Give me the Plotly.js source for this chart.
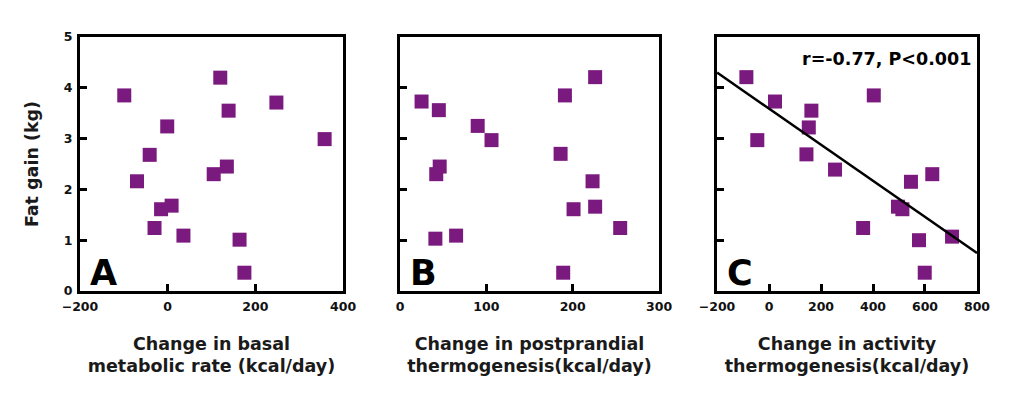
<!DOCTYPE html>
<html>
<head>
<meta charset="utf-8">
<script src="https://cdn.plot.ly/plotly-3.0.1.min.js"></script>
<style>html,body{margin:0;padding:0;background:#fff;}#chart{width:1024px;height:405px;}</style>
</head>
<body>
<div id="chart"></div>
<script>
// Fat gain (kg) for the 16 subjects (shared y values)
const fatGainA = [3.85, 4.20, 3.71, 3.55, 3.24, 2.99, 2.68, 2.45, 2.30, 2.16, 1.68, 1.61, 1.24, 1.09, 1.01, 0.36];
const basalChange = [-99, 120, 248, 139, -1, 358, -41, 135, 105, -70, 9, -15, -30, 36, 164, 175];

const fatGainB = [4.21, 3.85, 3.73, 3.56, 3.25, 2.97, 2.70, 2.45, 2.30, 2.16, 1.66, 1.61, 1.24, 1.09, 1.03, 0.36];
const postprandialChange = [226, 191, 25, 45, 90, 106, 186, 46, 42, 223, 226, 201, 255, 65, 41, 189];

const fatGainC = [4.21, 3.85, 3.73, 3.55, 3.22, 2.97, 2.69, 2.39, 2.30, 2.15, 1.66, 1.61, 1.24, 1.07, 1.00, 0.36];
const activityChange = [-87, 403, 23, 163, 153, -45, 144, 254, 628, 546, 496, 513, 362, 704, 577, 599];

const fitLineX = [-200, 800];
const fitLineY = [4.30, 0.75];

const xTicksA = [-200, 0, 200, 400];
const xTicksB = [0, 100, 200, 300];
const xTicksC = [-200, 0, 200, 400, 600, 800];
const yTicks = [0, 1, 2, 3, 4, 5];

const panelLetters = ['A', 'B', 'C'];
const xTitles = ['Change in basal<br>metabolic rate (kcal/day)',
                 'Change in postprandial<br>thermogenesis(kcal/day)',
                 'Change in activity<br>thermogenesis(kcal/day)'];
const yTitle = 'Fat gain (kg)';
const statText = 'r=-0.77, P<0.001';

const FONT = 'DejaVu Sans, Verdana, sans-serif';
const purple = '#7b1a7e';
const marker = {symbol: 'square', size: 14, color: purple};

const traces = [
  {x: basalChange, y: fatGainA, xaxis: 'x', yaxis: 'y', type: 'scatter', mode: 'markers', marker: marker, cliponaxis: false},
  {x: postprandialChange, y: fatGainB, xaxis: 'x2', yaxis: 'y2', type: 'scatter', mode: 'markers', marker: marker, cliponaxis: false},
  {x: activityChange, y: fatGainC, xaxis: 'x3', yaxis: 'y3', type: 'scatter', mode: 'markers', marker: marker, cliponaxis: false},
  {x: fitLineX, y: fitLineY, xaxis: 'x3', yaxis: 'y3', type: 'scatter', mode: 'lines', line: {color: '#000', width: 2.5}}
];

const tickFont = {family: FONT, size: 12.5, color: '#111', weight: 700};
const titleFont = {family: FONT, size: 17.5, color: '#1a1a1a', weight: 700};

function xAx(domain, range, tickvals, title, anchor) {
  return {
    domain: domain, range: range, tickvals: tickvals, anchor: anchor,
    showline: true, mirror: true, linewidth: 3, linecolor: '#000',
    ticks: 'inside', ticklen: 7, tickwidth: 3, tickcolor: '#000',
    showgrid: false, zeroline: false, fixedrange: true, automargin: false,
    tickfont: tickFont, ticklabelstandoff: 2,
    title: {text: title, font: titleFont, standoff: 25}
  };
}
function yAx(anchor, showLabels, title) {
  return {
    domain: [0.2815, 0.9086], range: [0, 5], tickvals: yTicks, anchor: anchor,
    showline: true, mirror: true, linewidth: 3, linecolor: '#000',
    ticks: 'inside', ticklen: 7, tickwidth: 3, tickcolor: '#000',
    showgrid: false, zeroline: false, fixedrange: true, automargin: false,
    showticklabels: showLabels, tickfont: tickFont, ticklabelstandoff: 2,
    title: title ? {text: title, font: titleFont, standoff: 21} : {text: ''}
  };
}

const annotations = [];
const domXs = ['x domain', 'x2 domain', 'x3 domain'];
const domYs = ['y domain', 'y2 domain', 'y3 domain'];
panelLetters.forEach((t, i) => {
  annotations.push({
    text: t, xref: domXs[i], yref: domYs[i], x: 0.03, y: -0.015,
    xanchor: 'left', yanchor: 'bottom', showarrow: false,
    font: {family: FONT, size: 35, color: '#000', weight: 700}
  });
});
annotations.push({
  text: statText, xref: 'x3 domain', yref: 'y3 domain', x: 0.985, y: 0.915,
  xanchor: 'right', yanchor: 'middle', showarrow: false,
  font: {family: FONT, size: 17.5, color: '#000', weight: 700}
});

const layout = {
  width: 1024, height: 405,
  margin: {l: 0, r: 0, t: 0, b: 0},
  paper_bgcolor: '#fff', plot_bgcolor: '#fff',
  showlegend: false,
  xaxis: xAx([0.0781, 0.3350], [-200, 400], xTicksA, xTitles[0], 'y'),
  xaxis2: xAx([0.3906, 0.6436], [0, 300], xTicksB, xTitles[1], 'y2'),
  xaxis3: xAx([0.7002, 0.9541], [-200, 800], xTicksC, xTitles[2], 'y3'),
  yaxis: yAx('x', true, yTitle),
  yaxis2: yAx('x2', false, null),
  yaxis3: yAx('x3', false, null),
  annotations: annotations
};

Plotly.newPlot('chart', traces, layout, {displayModeBar: false, staticPlot: true});
</script>
</body>
</html>
